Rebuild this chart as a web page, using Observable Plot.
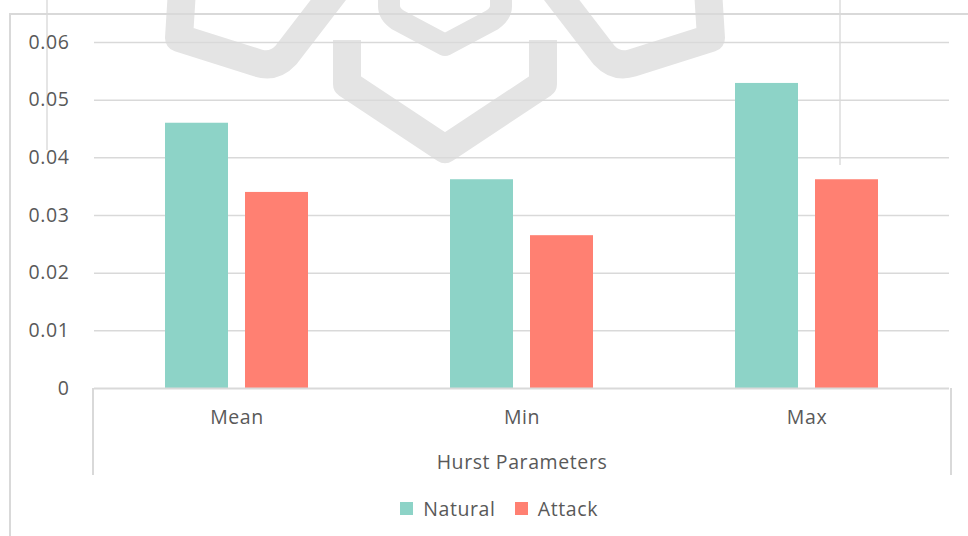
<!DOCTYPE html>
<html>
<head>
<meta charset="utf-8">
<script src="https://cdn.jsdelivr.net/npm/d3@7"></script>
<script src="https://cdn.jsdelivr.net/npm/@observablehq/plot@0.6"></script>
<style>
  html, body { margin: 0; padding: 0; background: #fff; }
  #page { position: relative; width: 968px; height: 536px; overflow: hidden; background: #fff;
          font-family: "Open Sans", sans-serif; color: #595959; }
  #backdrop { position: absolute; left: 0; top: 0; }
  #frame { position: absolute; left: 9px; top: 13px; width: 980px; height: 540px;
           border-left: 2px solid #d9d9d9; border-top: 2px solid #d9d9d9; }
  #catbox { position: absolute; left: 92px; top: 388px; width: 856px; height: 87px;
            border-left: 2px solid #d9d9d9; border-right: 2px solid #d9d9d9; }
  #chart { position: absolute; left: 0; top: 0; }
  #chart text { letter-spacing: 0.6px; }
  #legend { position: absolute; left: 40px; top: 492px; width: 938px; display: flex; justify-content: center; }
  #legend span { letter-spacing: 0.6px; }
</style>
</head>
<body>
<div id="page">
  <!-- faint background emblem and page rules behind the chart -->
  <svg id="backdrop" width="968" height="536" viewBox="0 0 968 536">
    <g fill="none" stroke="#e4e4e4" stroke-width="28" stroke-linejoin="round" stroke-linecap="butt">
      <path d="M182 -10 L179 38 L258 63 Q274 68 286 55 L336 -10"/>
      <path d="M708 -10 L711 38 L632 63 Q616 68 604 55 L554 -10"/>
      <path d="M347 40 L347 84 L445 149 L543 84 L543 40"/>
      <path d="M389 -10 L389 6 Q389 14 398 20 L445 45 L492 20 Q501 14 501 6 L501 -10" stroke-width="22"/>
    </g>
    <g stroke="#dddddd" stroke-width="1.5">
      <line x1="47" y1="0" x2="47" y2="150"/>
      <line x1="840" y1="0" x2="840" y2="165"/>
    </g>
  </svg>
  <div id="frame"></div>
  <div id="catbox"></div>
  <div id="chart"></div>
  <div id="legend"></div>
</div>
<script>
// Hurst parameter summary for natural vs. attack traffic
const categories = ["Mean", "Min", "Max"];
const series = ["Natural", "Attack"];
const natural = [0.046, 0.0362, 0.0529];
const attack = [0.034, 0.0265, 0.0362];
const yTicks = [0, 0.01, 0.02, 0.03, 0.04, 0.05, 0.06];
const axisTitle = "Hurst Parameters";
const colors = ["#8dd3c7", "#ff8072"];

const rows = categories.flatMap((c, i) => [
  {category: c, series: series[0], value: natural[i]},
  {category: c, series: series[1], value: attack[i]}
]);

const font = "'Open Sans', sans-serif";
const size = 19.5;

const chart = Plot.plot({
  width: 968,
  height: 488,
  marginLeft: 93,
  marginRight: 18,
  marginTop: 42,
  marginBottom: 100,
  style: {background: "transparent", fontFamily: font, fontSize: size + "px", color: "#595959"},
  fx: {domain: categories, padding: 0, label: null},
  x: {domain: series, paddingInner: 0.21, paddingOuter: 0.868, axis: null},
  y: {domain: [0, 0.06]},
  color: {domain: series, range: colors},
  marks: [
    Plot.ruleY(yTicks.slice(1), {stroke: "#d9d9d9", strokeWidth: 1.5}),
    Plot.barY(rows, {fx: "category", x: "series", y: "value", fill: "series"}),
    Plot.ruleY([0], {stroke: "#d9d9d9", strokeWidth: 2}),
    Plot.axisY({
      ticks: yTicks,
      tickSize: 0,
      tickPadding: 25,
      tickFormat: d => d === 0 ? "0" : d.toFixed(2),
      label: null,
      fontSize: size
    }),
    Plot.axisFx({
      anchor: "bottom",
      tickSize: 0,
      tickPadding: 22,
      fontSize: size,
      label: axisTitle,
      labelAnchor: "center",
      labelOffset: 80
    })
  ]
});
document.getElementById("chart").appendChild(chart);

const legend = Plot.legend({
  color: {domain: series, range: colors},
  swatchSize: 13,
  style: {fontFamily: font, fontSize: size + "px", color: "#595959"}
});
document.getElementById("legend").appendChild(legend);
</script>
</body>
</html>
